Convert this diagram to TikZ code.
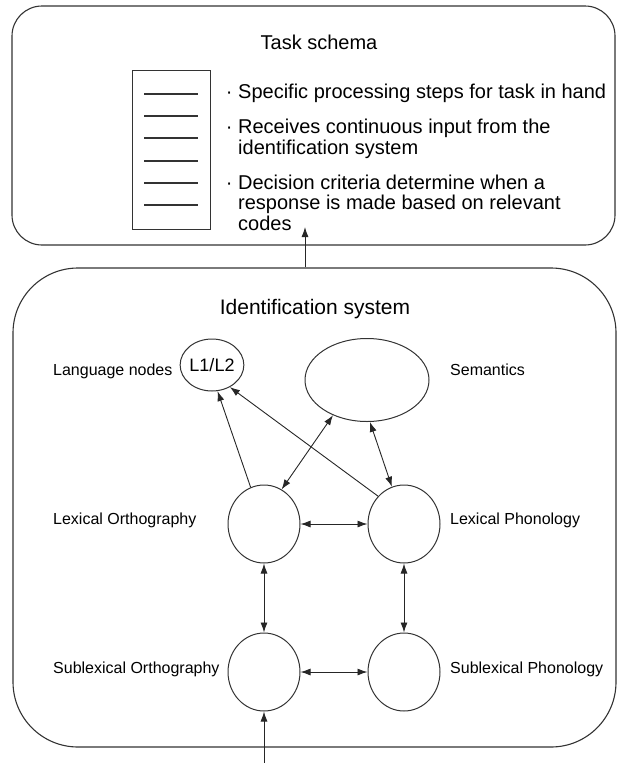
\documentclass[tikz,border=0pt]{standalone}
\usepackage{fontspec}
\setmainfont{Liberation Sans}
\usetikzlibrary{arrows.meta,shapes.geometric}

\begin{document}
\begin{tikzpicture}[x=1pt,y=-1pt,>={Latex[length=10pt,width=7pt]},
                      panel/.style={draw=black!80,line width=1.1pt,inner sep=0pt},
                      unit/.style={ellipse,draw=black!80,line width=1pt,inner sep=0pt,minimum width=72pt,minimum height=78pt},
                      lab/.style={anchor=base west,inner sep=0pt,font=\fontsize{16}{16}\selectfont},
                      item/.style={anchor=base west,inner sep=0pt,align=left,font=\fontsize{20}{20.5}\selectfont},
                      link/.style={draw=black!85,line width=0.9pt,->},
                      both/.style={draw=black!85,line width=0.9pt,<->}]
                      \useasboundingbox (0,0) rectangle (617,763);
                      \node[panel,rounded corners=30pt,minimum width=603pt,minimum height=239pt] (task) at (313.5,125.5) {};
                      \node[panel,rounded corners=65pt,minimum width=603pt,minimum height=479pt] (idsys) at (314.5,507.5) {};
                      \node[anchor=base,inner sep=0pt,font=\fontsize{20}{20}\selectfont] (tasktitle) at (319,49) {Task schema};
                      \node[anchor=base,inner sep=0pt,font=\fontsize{21}{21}\selectfont] (idtitle) at (315,314) {Identification system};
                      \draw[black!80,line width=1pt] (132,70) rectangle (210,229);
                      \foreach \y in {94,116,138,161,183,205}
                          \draw[black!80,line width=1.1pt] (144,\y) -- (198,\y);
                      \node[item] (step1) at (238,98) {\llap{\textperiodcentered\ }Specific processing steps for task in hand};
                      \node[item] (step2) at (238,154) {\llap{\textperiodcentered\ }Receives continuous input from the\\identification system};
                      \node[item] (step3) at (238,230) {\llap{\textperiodcentered\ }Decision criteria determine when a\\response is made based on relevant\\codes};
                      \node[unit,minimum width=52pt,minimum height=52pt,font=\fontsize{18}{18}\selectfont] (lang) at (212,365) {L1/L2};
                      \node[unit,minimum width=124pt,minimum height=83pt] (sem) at (367,380) {};
                      \node[unit] (lorth) at (264,524) {};
                      \node[unit] (lphon) at (404,524) {};
                      \node[unit] (sorth) at (264,672) {};
                      \node[unit] (sphon) at (404,672) {};
                      \node[lab] (langlab) at (53,375) {Language nodes};
                      \node[lab] (semlab) at (450,375) {Semantics};
                      \node[lab] (lorthlab) at (53,524) {Lexical Orthography};
                      \node[lab] (lphonlab) at (450,524) {Lexical Phonology};
                      \node[lab] (sorthlab) at (53,673) {Sublexical Orthography};
                      \node[lab] (sphonlab) at (450,673) {Sublexical Phonology};
                      \coordinate (resp) at (305,227);
                      \coordinate (input) at (264,763);
                      \draw[link] (idsys.north -| resp) -- (resp);
                      \draw[link] (input) -- (sorth);
                      \draw[link] (lorth.110) -- (lang.-78);
                      \draw[link] (lphon.133) -- (lang.-51);
                      \draw[both] (lorth.63) -- (sem.-134);
                      \draw[both] (lphon.108) -- (sem.-86);
                      \draw[both] (lorth) -- (lphon);
                      \draw[both] (sorth) -- (sphon);
                      \draw[both] (lorth) -- (sorth);
                      \draw[both] (lphon) -- (sphon);
                  \end{tikzpicture}
\end{document}
